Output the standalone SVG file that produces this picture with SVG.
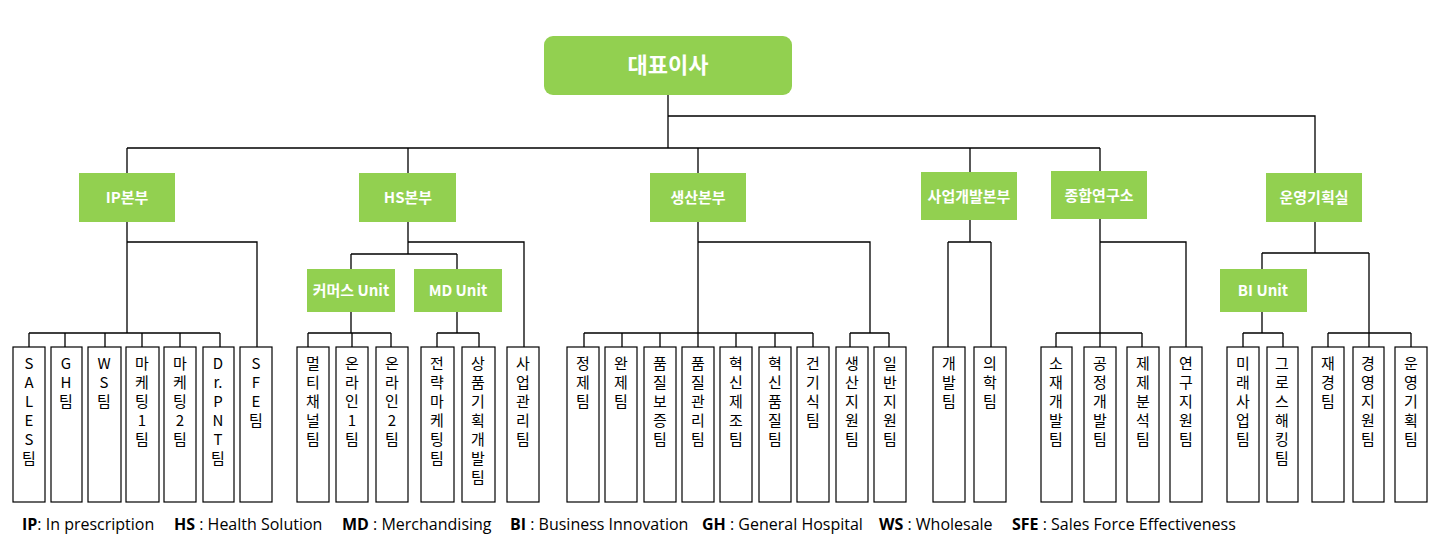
<svg xmlns="http://www.w3.org/2000/svg" width="1436" height="540" viewBox="0 0 1436 540">
<style>
.g{fill:#92D050}
.gt{fill:#fff;font-family:"Noto Sans CJK KR","Noto Sans",sans-serif;font-weight:bold;font-size:15px;text-anchor:middle}
.b{fill:#fff;stroke:#000;stroke-width:1.2}
.t{font-family:"Noto Sans CJK KR","Noto Sans",sans-serif;font-size:15px;text-anchor:middle;fill:#000}
.c{fill:none;stroke:#000;stroke-width:1.3}
.l{font-family:"Open Sans","Noto Sans",sans-serif;font-size:16px;fill:#000}
.l tspan.k{font-weight:bold}
</style>
<g id="connectors" class="c">
<path d="M668 95V148M668 116H1315V173M127 148H1100M127 148V173M408 148V173M698 148V173M970 148V172M1100 148V171"/>
<path d="M127 222V333M29 333H220M29 333V347M65 333V347M105 333V347M142 333V347M180 333V347M220 333V347M127 242H257V347"/>
<path d="M408 222V254M351 254H457M351 254V269M457 254V269M408 242H524V347M351 312V333M308 333H391M308 333V347M352 333V347M391 333V347M457 312V333M437 333H479M437 333V347M479 333V347"/>
<path d="M698 222V333M584 333H813M584 333V347M622 333V347M660 333V347M698 333V347M736 333V347M775 333V347M813 333V347M698 242H870V333M850 333H889M850 333V347M889 333V347"/>
<path d="M970 220V242M948 242H991M948 242V347M991 242V347"/>
<path d="M1100 219V333M1056 333H1142M1056 333V347M1100 333V347M1142 333V347M1100 242H1186V347"/>
<path d="M1315 222V253M1262 253H1369M1262 253V269M1262 312V333M1243 333H1283M1243 333V347M1283 333V347M1369 253V333M1328 333H1411M1328 333V347M1369 333V347M1411 333V347"/>
</g>
<g id="ceo"><rect class="g" x="544" y="36" width="248" height="59" rx="9"/><text class="gt" x="668" y="73" style="font-size:22px">대표이사</text></g>
<g id="ip"><rect class="g" x="79" y="173" width="96" height="49"/><text class="gt" x="127" y="203">IP본부</text></g>
<g id="hs"><rect class="g" x="359" y="173" width="97" height="49"/><text class="gt" x="408" y="203">HS본부</text></g>
<g id="prod"><rect class="g" x="650" y="173" width="96" height="49"/><text class="gt" x="698" y="203">생산본부</text></g>
<g id="bizdev"><rect class="g" x="921" y="172" width="96" height="48"/><text class="gt" x="969" y="202">사업개발본부</text></g>
<g id="rnd"><rect class="g" x="1051" y="171" width="96" height="48"/><text class="gt" x="1099" y="201">종합연구소</text></g>
<g id="ops"><rect class="g" x="1266" y="173" width="96" height="49"/><text class="gt" x="1314" y="203">운영기획실</text></g>
<g id="commerce"><rect class="g" x="307" y="269" width="88" height="43"/><text class="gt" x="351" y="296">커머스 Unit</text></g>
<g id="md"><rect class="g" x="414" y="269" width="88" height="43"/><text class="gt" x="458" y="296">MD Unit</text></g>
<g id="bi"><rect class="g" x="1220" y="269" width="87" height="43"/><text class="gt" x="1263" y="296">BI Unit</text></g>
<g id="teams">
<g id="t1"><rect class="b" x="13" y="347" width="32" height="155"/><text class="t" x="29" y="369"><tspan x="29">S</tspan><tspan x="29" dy="19">A</tspan><tspan x="29" dy="19">L</tspan><tspan x="29" dy="19">E</tspan><tspan x="29" dy="19">S</tspan><tspan x="29" dy="19">팀</tspan></text></g>
<g id="t2"><rect class="b" x="51" y="347" width="31" height="155"/><text class="t" x="66" y="369"><tspan x="66">G</tspan><tspan x="66" dy="19">H</tspan><tspan x="66" dy="19">팀</tspan></text></g>
<g id="t3"><rect class="b" x="88" y="347" width="33" height="155"/><text class="t" x="104" y="369"><tspan x="104">W</tspan><tspan x="104" dy="19">S</tspan><tspan x="104" dy="19">팀</tspan></text></g>
<g id="t4"><rect class="b" x="126" y="347" width="33" height="155"/><text class="t" x="142" y="369"><tspan x="142">마</tspan><tspan x="142" dy="19">케</tspan><tspan x="142" dy="19">팅</tspan><tspan x="142" dy="19">1</tspan><tspan x="142" dy="19">팀</tspan></text></g>
<g id="t5"><rect class="b" x="164" y="347" width="32" height="155"/><text class="t" x="180" y="369"><tspan x="180">마</tspan><tspan x="180" dy="19">케</tspan><tspan x="180" dy="19">팅</tspan><tspan x="180" dy="19">2</tspan><tspan x="180" dy="19">팀</tspan></text></g>
<g id="t6"><rect class="b" x="203" y="347" width="31" height="155"/><text class="t" x="218" y="369"><tspan x="218">D</tspan><tspan x="218" dy="19">r.</tspan><tspan x="218" dy="19">P</tspan><tspan x="218" dy="19">N</tspan><tspan x="218" dy="19">T</tspan><tspan x="218" dy="19">팀</tspan></text></g>
<g id="t7"><rect class="b" x="240" y="347" width="32" height="155"/><text class="t" x="256" y="369"><tspan x="256">S</tspan><tspan x="256" dy="19">F</tspan><tspan x="256" dy="19">E</tspan><tspan x="256" dy="19">팀</tspan></text></g>
<g id="t8"><rect class="b" x="297" y="347" width="32" height="155"/><text class="t" x="313" y="369"><tspan x="313">멀</tspan><tspan x="313" dy="19">티</tspan><tspan x="313" dy="19">채</tspan><tspan x="313" dy="19">널</tspan><tspan x="313" dy="19">팀</tspan></text></g>
<g id="t9"><rect class="b" x="336" y="347" width="32" height="155"/><text class="t" x="352" y="369"><tspan x="352">온</tspan><tspan x="352" dy="19">라</tspan><tspan x="352" dy="19">인</tspan><tspan x="352" dy="19">1</tspan><tspan x="352" dy="19">팀</tspan></text></g>
<g id="t10"><rect class="b" x="376" y="347" width="32" height="155"/><text class="t" x="392" y="369"><tspan x="392">온</tspan><tspan x="392" dy="19">라</tspan><tspan x="392" dy="19">인</tspan><tspan x="392" dy="19">2</tspan><tspan x="392" dy="19">팀</tspan></text></g>
<g id="t11"><rect class="b" x="421" y="347" width="33" height="155"/><text class="t" x="437" y="369"><tspan x="437">전</tspan><tspan x="437" dy="19">략</tspan><tspan x="437" dy="19">마</tspan><tspan x="437" dy="19">케</tspan><tspan x="437" dy="19">팅</tspan><tspan x="437" dy="19">팀</tspan></text></g>
<g id="t12"><rect class="b" x="462" y="347" width="33" height="155"/><text class="t" x="478" y="369"><tspan x="478">상</tspan><tspan x="478" dy="19">품</tspan><tspan x="478" dy="19">기</tspan><tspan x="478" dy="19">획</tspan><tspan x="478" dy="19">개</tspan><tspan x="478" dy="19">발</tspan><tspan x="478" dy="19">팀</tspan></text></g>
<g id="t13"><rect class="b" x="507" y="347" width="32" height="155"/><text class="t" x="523" y="369"><tspan x="523">사</tspan><tspan x="523" dy="19">업</tspan><tspan x="523" dy="19">관</tspan><tspan x="523" dy="19">리</tspan><tspan x="523" dy="19">팀</tspan></text></g>
<g id="t14"><rect class="b" x="567" y="347" width="32" height="155"/><text class="t" x="583" y="369"><tspan x="583">정</tspan><tspan x="583" dy="19">제</tspan><tspan x="583" dy="19">팀</tspan></text></g>
<g id="t15"><rect class="b" x="605" y="347" width="32" height="155"/><text class="t" x="621" y="369"><tspan x="621">완</tspan><tspan x="621" dy="19">제</tspan><tspan x="621" dy="19">팀</tspan></text></g>
<g id="t16"><rect class="b" x="644" y="347" width="32" height="155"/><text class="t" x="660" y="369"><tspan x="660">품</tspan><tspan x="660" dy="19">질</tspan><tspan x="660" dy="19">보</tspan><tspan x="660" dy="19">증</tspan><tspan x="660" dy="19">팀</tspan></text></g>
<g id="t17"><rect class="b" x="682" y="347" width="32" height="155"/><text class="t" x="698" y="369"><tspan x="698">품</tspan><tspan x="698" dy="19">질</tspan><tspan x="698" dy="19">관</tspan><tspan x="698" dy="19">리</tspan><tspan x="698" dy="19">팀</tspan></text></g>
<g id="t18"><rect class="b" x="720" y="347" width="32" height="155"/><text class="t" x="736" y="369"><tspan x="736">혁</tspan><tspan x="736" dy="19">신</tspan><tspan x="736" dy="19">제</tspan><tspan x="736" dy="19">조</tspan><tspan x="736" dy="19">팀</tspan></text></g>
<g id="t19"><rect class="b" x="759" y="347" width="32" height="155"/><text class="t" x="775" y="369"><tspan x="775">혁</tspan><tspan x="775" dy="19">신</tspan><tspan x="775" dy="19">품</tspan><tspan x="775" dy="19">질</tspan><tspan x="775" dy="19">팀</tspan></text></g>
<g id="t20"><rect class="b" x="797" y="347" width="32" height="155"/><text class="t" x="813" y="369"><tspan x="813">건</tspan><tspan x="813" dy="19">기</tspan><tspan x="813" dy="19">식</tspan><tspan x="813" dy="19">팀</tspan></text></g>
<g id="t21"><rect class="b" x="836" y="347" width="32" height="155"/><text class="t" x="852" y="369"><tspan x="852">생</tspan><tspan x="852" dy="19">산</tspan><tspan x="852" dy="19">지</tspan><tspan x="852" dy="19">원</tspan><tspan x="852" dy="19">팀</tspan></text></g>
<g id="t22"><rect class="b" x="874" y="347" width="32" height="155"/><text class="t" x="890" y="369"><tspan x="890">일</tspan><tspan x="890" dy="19">반</tspan><tspan x="890" dy="19">지</tspan><tspan x="890" dy="19">원</tspan><tspan x="890" dy="19">팀</tspan></text></g>
<g id="t23"><rect class="b" x="933" y="347" width="32" height="155"/><text class="t" x="949" y="369"><tspan x="949">개</tspan><tspan x="949" dy="19">발</tspan><tspan x="949" dy="19">팀</tspan></text></g>
<g id="t24"><rect class="b" x="974" y="347" width="32" height="155"/><text class="t" x="990" y="369"><tspan x="990">의</tspan><tspan x="990" dy="19">학</tspan><tspan x="990" dy="19">팀</tspan></text></g>
<g id="t25"><rect class="b" x="1041" y="347" width="31" height="155"/><text class="t" x="1056" y="369"><tspan x="1056">소</tspan><tspan x="1056" dy="19">재</tspan><tspan x="1056" dy="19">개</tspan><tspan x="1056" dy="19">발</tspan><tspan x="1056" dy="19">팀</tspan></text></g>
<g id="t26"><rect class="b" x="1084" y="347" width="32" height="155"/><text class="t" x="1100" y="369"><tspan x="1100">공</tspan><tspan x="1100" dy="19">정</tspan><tspan x="1100" dy="19">개</tspan><tspan x="1100" dy="19">발</tspan><tspan x="1100" dy="19">팀</tspan></text></g>
<g id="t27"><rect class="b" x="1127" y="347" width="32" height="155"/><text class="t" x="1143" y="369"><tspan x="1143">제</tspan><tspan x="1143" dy="19">제</tspan><tspan x="1143" dy="19">분</tspan><tspan x="1143" dy="19">석</tspan><tspan x="1143" dy="19">팀</tspan></text></g>
<g id="t28"><rect class="b" x="1170" y="347" width="32" height="155"/><text class="t" x="1186" y="369"><tspan x="1186">연</tspan><tspan x="1186" dy="19">구</tspan><tspan x="1186" dy="19">지</tspan><tspan x="1186" dy="19">원</tspan><tspan x="1186" dy="19">팀</tspan></text></g>
<g id="t29"><rect class="b" x="1227" y="347" width="32" height="155"/><text class="t" x="1243" y="369"><tspan x="1243">미</tspan><tspan x="1243" dy="19">래</tspan><tspan x="1243" dy="19">사</tspan><tspan x="1243" dy="19">업</tspan><tspan x="1243" dy="19">팀</tspan></text></g>
<g id="t30"><rect class="b" x="1267" y="347" width="31" height="155"/><text class="t" x="1282" y="369"><tspan x="1282">그</tspan><tspan x="1282" dy="19">로</tspan><tspan x="1282" dy="19">스</tspan><tspan x="1282" dy="19">해</tspan><tspan x="1282" dy="19">킹</tspan><tspan x="1282" dy="19">팀</tspan></text></g>
<g id="t31"><rect class="b" x="1312" y="347" width="32" height="155"/><text class="t" x="1328" y="369"><tspan x="1328">재</tspan><tspan x="1328" dy="19">경</tspan><tspan x="1328" dy="19">팀</tspan></text></g>
<g id="t32"><rect class="b" x="1353" y="347" width="31" height="155"/><text class="t" x="1368" y="369"><tspan x="1368">경</tspan><tspan x="1368" dy="19">영</tspan><tspan x="1368" dy="19">지</tspan><tspan x="1368" dy="19">원</tspan><tspan x="1368" dy="19">팀</tspan></text></g>
<g id="t33"><rect class="b" x="1395" y="347" width="32" height="155"/><text class="t" x="1411" y="369"><tspan x="1411">운</tspan><tspan x="1411" dy="19">영</tspan><tspan x="1411" dy="19">기</tspan><tspan x="1411" dy="19">획</tspan><tspan x="1411" dy="19">팀</tspan></text></g>
</g>
<g id="legend">
<text class="l" x="22" y="530"><tspan class="k">IP</tspan>: In prescription</text>
<text class="l" x="174" y="530"><tspan class="k">HS</tspan> : Health Solution</text>
<text class="l" x="342" y="530"><tspan class="k">MD</tspan> : Merchandising</text>
<text class="l" x="510" y="530"><tspan class="k">BI</tspan> : Business Innovation</text>
<text class="l" x="702" y="530"><tspan class="k">GH</tspan> : General Hospital</text>
<text class="l" x="879" y="530"><tspan class="k">WS</tspan> : Wholesale</text>
<text class="l" x="1012" y="530"><tspan class="k">SFE</tspan> : Sales Force Effectiveness</text>
</g>
</svg>
